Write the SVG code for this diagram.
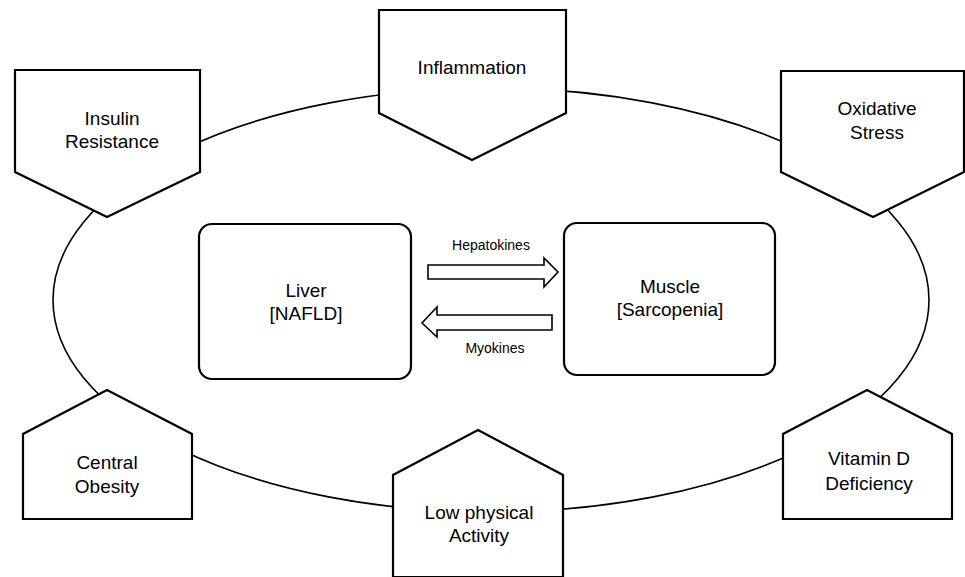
<svg xmlns="http://www.w3.org/2000/svg" width="965" height="577" viewBox="0 0 965 577">
<style>
.bg{fill:#fff}
.ring{fill:none;stroke:#000;stroke-width:1.6}
.pent{fill:#fff;stroke:#000;stroke-width:2.2;stroke-linejoin:miter}
.box{fill:#fff;stroke:#000;stroke-width:2.2}
.arr{fill:#fff;stroke:#000;stroke-width:1.6;stroke-linejoin:miter}
text{font-family:"Liberation Sans",Arial,sans-serif;fill:#000;text-anchor:middle}
.lbl{font-size:19px}
.small{font-size:14px}
</style>
<rect class="bg" x="0" y="0" width="965" height="577"/>
<g id="connectors">
  <ellipse class="ring" cx="491" cy="300" rx="438" ry="212"/>
  <polygon id="arrow-hepatokines" class="arr" points="428,265 544,265 544,258 558,272 544,287 544,279 428,279"/>
  <polygon id="arrow-myokines" class="arr" points="552,315 437,315 437,307 422,323 437,337 437,330 552,330"/>
  <text class="small" x="491" y="250">Hepatokines</text>
  <text class="small" x="495" y="353">Myokines</text>
</g>
<g id="insulin-resistance">
  <polygon class="pent" points="15,70 200,70 200,172 107,217 15,172"/>
  <text class="lbl" x="112" y="125">Insulin</text>
  <text class="lbl" x="112" y="148">Resistance</text>
</g>
<g id="inflammation">
  <polygon class="pent" points="379,10 566,10 566,113 472,160 379,113"/>
  <text class="lbl" x="472" y="74">Inflammation</text>
</g>
<g id="oxidative-stress">
  <polygon class="pent" points="781,71 964,71 964,172 873,217 781,172"/>
  <text class="lbl" x="877" y="115">Oxidative</text>
  <text class="lbl" x="877" y="139">Stress</text>
</g>
<g id="central-obesity">
  <polygon class="pent" points="107,390 192,434 192,519 23,519 23,434"/>
  <text class="lbl" x="107" y="469">Central</text>
  <text class="lbl" x="107" y="493">Obesity</text>
</g>
<g id="low-physical-activity">
  <polygon class="pent" points="478,430 563,475 563,577 393,577 393,475"/>
  <text class="lbl" x="479" y="519">Low physical</text>
  <text class="lbl" x="479" y="542">Activity</text>
</g>
<g id="vitamin-d-deficiency">
  <polygon class="pent" points="867,390 952,434 952,519 783,519 783,434"/>
  <text class="lbl" x="869" y="465">Vitamin D</text>
  <text class="lbl" x="869" y="490">Deficiency</text>
</g>
<g id="liver">
  <rect class="box" x="199" y="224" width="212" height="155" rx="13" ry="13"/>
  <text class="lbl" x="306" y="297">Liver</text>
  <text class="lbl" x="306" y="320">[NAFLD]</text>
</g>
<g id="muscle">
  <rect class="box" x="564" y="223" width="211" height="152" rx="13" ry="13"/>
  <text class="lbl" x="670" y="293">Muscle</text>
  <text class="lbl" x="670" y="316">[Sarcopenia]</text>
</g>
</svg>
